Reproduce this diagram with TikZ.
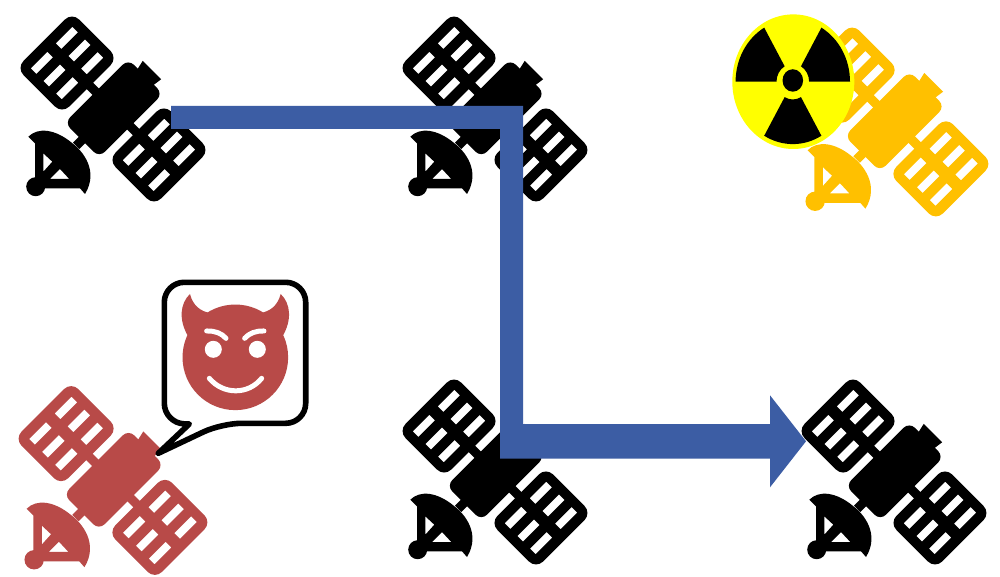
\documentclass[tikz,border=0pt]{standalone}
\definecolor{flow}{HTML}{3C5DA4}
\definecolor{evil}{HTML}{B84A48}
\definecolor{hot}{HTML}{FFC000}
\definecolor{warn}{HTML}{FFFF00}
\tikzset{
  x=1pt,y=-1pt,
  pics/sat/.style={code={
    \begin{scope}[x={(.7071pt,.7071pt)},y={(.7071pt,-.7071pt)}]
      % panels
      \foreach \c in {-65,65}{
        \fill[#1,even odd rule,rounded corners=10pt]
          (0,\c-32.3) -- (39.3,\c-32.3) -- (39.3,\c+32.3) -- (-39.3,\c+32.3) -- (-39.3,\c-32.3) -- cycle [sharp corners]
          \foreach \a in {-17.7,17.7}{\foreach \b in {-17.9,0,17.9}{
            (\a-11.7,\c+\b-4) -- (\a+11.7,\c+\b-4) -- (\a+11.7,\c+\b+4) -- (\a-11.7,\c+\b+4) -- cycle}};
      }
      % body, struts, nozzle
      \fill[#1,rounded corners=8pt] (0,-24.5) -- (46,-24.5) -- (46,24.5) -- (-44,24.5) -- (-44,-24.5) -- cycle;
      \fill[#1] (-4.5,-40) -- (4.5,-40) -- (4.5,40) -- (-4.5,40) -- cycle;
      \fill[#1] (-52,-4.5) -- (-40,-4.5) -- (-40,4.5) -- (-52,4.5) -- cycle;
      \fill[#1] (44,-10.5) -- (55,-13) -- (55,13) -- (44,11.5) -- cycle;
    \end{scope}
    % dish
    \fill[#1,even odd rule] (-84.7,27.7)
      .. controls (-75,18) and (-58,20) .. (-41.3,33.7)
      .. controls (-30,42) and (-14,62) .. (-28,85)
      -- (-33,79.3) -- (-68,79.3) -- (-78,71) -- (-78,34.3) -- cycle
      (-69.7,44.3) -- (-60.7,52.7) -- (-69.7,62.7) -- cycle
      (-63,70) -- (-53,60) -- (-43.7,70) -- cycle;
    \fill[#1] (-77.3,77.7) circle[radius=9.5pt];
  }}
}
\begin{document}
\begin{tikzpicture}
\useasboundingbox (0,0) rectangle (1000,577);
\fill[white] (0,0) rectangle (1000,577);

\pic (s1) at (113,109) {sat=black};
\pic (s2) at (495,109) {sat=black};
\pic (s3) at (495,472) {sat=black};
\pic (s4) at (894,472) {sat=black};
\pic[scale=1.02] (s5) at (894,122) {sat=hot};
\pic[scale=1.02] (s6) at (113,480.5) {sat=evil};

% radiation sign
\fill[warn] (793.3,81.7) ellipse[x radius=61pt,y radius=67.3pt];
\begin{scope}[shift={(792.8,81.7)},x=1pt,y=1pt,xscale=57.2,yscale=62.4]
  \foreach \s in {120,0,240}{
    \fill[black] (\s:.285) -- (\s:1) arc[start angle=\s,end angle=\s+60,radius=1pt]
      -- (\s+60:.285) arc[start angle=\s+60,end angle=\s,radius=.285pt] -- cycle;
  }
  \fill[black] (0,0.02) circle[radius=.18pt];
\end{scope}

% speech bubble
\draw[black,fill=white,line width=5.6pt,line join=round]
  (189.3,424) [rounded corners=20pt] -- (164.3,423.3) -- (164.3,282.3)
  -- (305.7,282.3) -- (305.7,423.3) -- (221.7,423.3) [sharp corners]
  -- (158.3,453.3) -- cycle;

% devil face
\begin{scope}[shift={(140,270)},x=.3333pt,y=-.3333pt]
  \fill[evil] (286,262) circle[radius=52.8pt];
  \fill[evil] (145,200) .. controls (115,150) and (120,100) .. (150,72)
    .. controls (158,105) and (180,125) .. (215,130) -- cycle;
  \fill[evil] (427,200) .. controls (457,150) and (452,100) .. (422,72)
    .. controls (414,105) and (392,125) .. (357,130) -- cycle;
  \fill[white] (220,238) circle[radius=8.5pt] (352,238) circle[radius=8.5pt];
  \draw[white,line width=5pt,line cap=round]
    (200,183) .. controls (225,182) and (245,190) .. (258,205)
    (372,183) .. controls (347,182) and (327,190) .. (314,205)
    (208,325) .. controls (250,375) and (325,375) .. (365,325);
\end{scope}

% bent arrow
\coordinate (f1) at (171,106);
\coordinate (f2) at (523,106);
\coordinate (f3) at (523,424);
\coordinate (f4) at (770,424);
\coordinate (f5) at (770,395.3);
\coordinate (f6) at (806,441.3);
\coordinate (f7) at (770,487.3);
\coordinate (f8) at (770,458.7);
\coordinate (f9) at (500,458.7);
\coordinate (f10) at (500,129);
\coordinate (f11) at (171,129);
\fill[flow] (f1) -- (f2) -- (f3) -- (f4) -- (f5) -- (f6) -- (f7) -- (f8) -- (f9) -- (f10) -- (f11) -- cycle;
\end{tikzpicture}
\end{document}
